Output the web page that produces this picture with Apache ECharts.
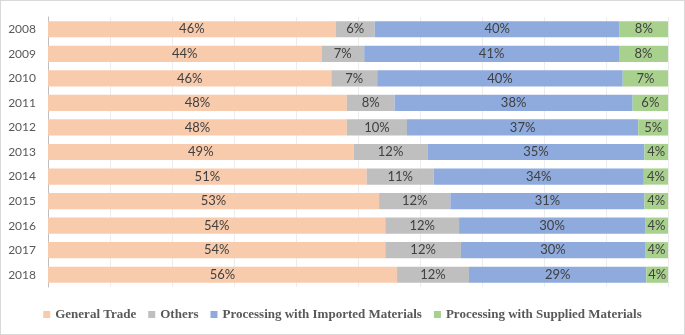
<!DOCTYPE html>
<html>
<head>
<meta charset="utf-8">
<script src="https://cdn.jsdelivr.net/npm/echarts@6/dist/echarts.min.js"></script>
<style>
    body { margin: 0; background: #fff; }
    #wrap { position: relative; width: 685px; height: 335px; }
    #chart { width: 685px; height: 335px; }
    #frame { position: absolute; left: 0; top: 0; right: 0; bottom: 0; border: 1px solid #d9d9d9; pointer-events: none; }
</style>
</head>
<body>
<div id="wrap">
    <div id="chart"></div>
    <div id="frame"></div>
</div>
<script>
var years = ["2008", "2009", "2010", "2011", "2012", "2013", "2014", "2015", "2016", "2017", "2018"];
var generalTrade = [46.4, 44.1, 45.7, 48.2, 48.2, 49.3, 51.4, 53.4, 54.4, 54.4, 56.3];
var others = [6.3, 6.9, 7.4, 7.7, 9.7, 11.9, 10.8, 11.5, 11.9, 12.2, 11.6];
var importedMaterials = [39.5, 41.1, 39.6, 38.4, 37.3, 35.0, 33.9, 31.3, 30.0, 29.7, 28.6];
var suppliedMaterials = [7.8, 7.9, 7.3, 5.7, 4.8, 3.8, 3.9, 3.8, 3.7, 3.7, 3.5];

var names = ["General Trade", "Others", "Processing with Imported Materials", "Processing with Supplied Materials"];
var colors = ["#F8CBAD", "#BFBFBF", "#8FAADC", "#A9D18E"];
var values = [generalTrade, others, importedMaterials, suppliedMaterials];

var chart = echarts.init(document.getElementById("chart"));

var series = [];
for (var i = 0; i < names.length; i++) {
    series.push({
        name: names[i],
        type: "bar",
        stack: "total",
        barCategoryGap: "34%",
        color: colors[i],
        label: {
            show: true,
            position: "inside",
            color: "#404040",
            fontFamily: "Lato",
            fontSize: 13,
            formatter: function(p) {
                return Math.round(p.value) + "%";
            }
        },
        emphasis: { disabled: true },
        data: values[i]
    });
}

var option = {
    backgroundColor: "#fff",
    animation: false,
    grid: {
        left: 48,
        right: 17,
        top: 17,
        bottom: 48
    },
    legend: {
        data: names,
        bottom: 9,
        left: "center",
        itemWidth: 7,
        itemHeight: 7,
        itemGap: 12,
        icon: "rect",
        textStyle: {
            color: "#595959",
            fontFamily: "Liberation Serif",
            fontWeight: "bold",
            fontSize: 13
        }
    },
    xAxis: {
        type: "value",
        min: 0,
        max: 100,
        interval: 10,
        axisLabel: { show: false },
        axisLine: { show: false },
        axisTick: { show: false },
        splitLine: { lineStyle: { color: "#ececec" } }
    },
    yAxis: {
        type: "category",
        inverse: true,
        data: years,
        axisTick: { show: false },
        axisLine: { lineStyle: { color: "#bfbfbf" } },
        axisLabel: {
            color: "#595959",
            fontFamily: "Lato",
            fontSize: 12,
            margin: 12
        }
    },
    series: series
};
chart.setOption(option);
</script>
</body>
</html>
